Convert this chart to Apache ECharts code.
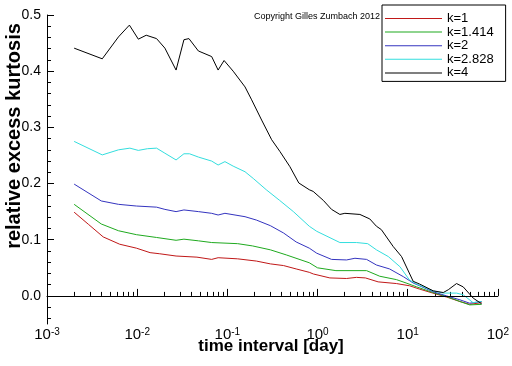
<!DOCTYPE html>
<html>
<head>
<meta charset="utf-8">
<script src="https://cdn.jsdelivr.net/npm/echarts@6/dist/echarts.min.js"></script>
<style>html,body{margin:0;padding:0;background:#fff}#c{width:512px;height:366px}</style>
</head>
<body>
<div id="c"></div>
<script>
// ---- data (x = time interval in days, y = relative excess kurtosis) ----
const seriesNames = ['k=1', 'k=1.414', 'k=2', 'k=2.828', 'k=4'];
const k1 = [[0.002,0.149],[0.0029,0.127],[0.0042,0.105],[0.0064,0.092],[0.0098,0.085],[0.0139,0.077],[0.0178,0.075],[0.027,0.071],[0.046,0.069],[0.067,0.065],[0.079,0.068],[0.13,0.066],[0.21,0.062],[0.3,0.057],[0.42,0.054],[0.58,0.048],[0.81,0.042],[0.9,0.039],[1.37,0.032],[2.1,0.031],[2.7,0.033],[3.4,0.032],[4.7,0.025],[7.5,0.022],[10.5,0.018],[13.6,0.012],[19,0.005],[27,-0.002],[38,-0.010],[48.7,-0.015],[66,-0.012]];
const k1414 = [[0.002,0.163],[0.004,0.128],[0.0062,0.116],[0.0098,0.109],[0.0164,0.104],[0.027,0.099],[0.033,0.101],[0.048,0.098],[0.067,0.095],[0.13,0.093],[0.19,0.089],[0.3,0.082],[0.45,0.073],[0.81,0.059],[1.0,0.050],[1.6,0.045],[3.5,0.045],[4.9,0.035],[7.5,0.029],[9.6,0.023],[12.6,0.016],[19,0.006],[27,-0.001],[38,-0.010],[48.7,-0.016],[66,-0.015]];
const k2 = [[0.002,0.199],[0.004,0.169],[0.0062,0.163],[0.0098,0.160],[0.0164,0.158],[0.0203,0.154],[0.027,0.150],[0.033,0.153],[0.048,0.150],[0.067,0.147],[0.079,0.144],[0.094,0.147],[0.157,0.141],[0.21,0.135],[0.3,0.125],[0.42,0.112],[0.58,0.096],[0.81,0.085],[0.98,0.076],[1.43,0.065],[2.1,0.064],[2.6,0.067],[3.5,0.065],[4.5,0.055],[6.3,0.048],[9.0,0.034],[11.5,0.023],[19,0.0076],[27,0.0],[38,-0.007],[48.7,-0.013],[66,-0.010]];
const k2828 = [[0.002,0.275],[0.0041,0.251],[0.0062,0.260],[0.0083,0.263],[0.0103,0.259],[0.013,0.262],[0.0164,0.263],[0.0203,0.254],[0.027,0.242],[0.033,0.253],[0.038,0.253],[0.048,0.247],[0.067,0.240],[0.079,0.233],[0.094,0.239],[0.116,0.231],[0.157,0.221],[0.194,0.209],[0.27,0.189],[0.38,0.170],[0.54,0.150],[0.81,0.124],[0.98,0.115],[1.77,0.095],[2.71,0.095],[3.6,0.093],[4.5,0.082],[6.1,0.070],[8.2,0.052],[10.5,0.028],[12.6,0.021],[19,0.009],[24.8,0.005],[34.8,0.005],[41.3,0.002],[53,-0.012],[66,-0.010]];
const k4 = [[0.002,0.441],[0.0041,0.422],[0.0062,0.461],[0.0082,0.482],[0.0103,0.457],[0.0126,0.464],[0.0164,0.458],[0.0203,0.441],[0.027,0.402],[0.033,0.456],[0.0375,0.458],[0.0477,0.436],[0.067,0.426],[0.079,0.402],[0.092,0.419],[0.116,0.400],[0.157,0.372],[0.186,0.349],[0.24,0.313],[0.31,0.278],[0.383,0.257],[0.494,0.230],[0.62,0.201],[0.81,0.189],[0.895,0.186],[1.16,0.170],[1.43,0.154],[1.77,0.145],[2.01,0.147],[2.95,0.145],[3.8,0.137],[4.5,0.124],[5.1,0.118],[6.9,0.088],[8.55,0.070],[11.5,0.026],[13.6,0.021],[19.2,0.009],[24.8,0.006],[28.2,0.011],[34.8,0.022],[41.3,0.016],[53.3,-0.004],[66,-0.014]];
const seriesData = [k1, k1414, k2, k2828, k4];
const yMajorTicks = [0, 0.1, 0.2, 0.3, 0.4, 0.5];
const yMinorTicks = [-0.04,-0.02,0.02,0.04,0.06,0.08,0.12,0.14,0.16,0.18,0.22,0.24,0.26,0.28,0.32,0.34,0.36,0.38,0.42,0.44,0.46,0.48];
const xMinorTicks = [];
[0.001,0.01,0.1,1,10].forEach(d => { for (let m = 2; m <= 9; m++) xMinorTicks.push(+(d*m).toPrecision(3)); });
const copyrightText = 'Copyright Gilles Zumbach 2012';
const xTitle = 'time interval [day]';
const yTitle = 'relative excess kurtosis';

// ---- styles ----
const colors = ['#c01818', '#1faa1f', '#3434bf', '#33dede', '#000000'];
const FONT = 'Liberation Sans';

const chart = echarts.init(document.getElementById('c'), null, {renderer: 'canvas'});
const series = seriesData.map((d, i) => ({
  name: seriesNames[i], type: 'line', data: d, symbol: 'none', showSymbol: false,
  lineStyle: {width: 1, color: colors[i]}, itemStyle: {color: colors[i]},
  xAxisIndex: 0, yAxisIndex: 0, silent: true, z: 3
}));
series[0].markLine = {
  silent: true, symbol: 'none', label: {show: false},
  lineStyle: {color: '#000', width: 1, type: 'solid'},
  data: [{yAxis: 0}]
};

chart.setOption({
  animation: false,
  backgroundColor: '#fff',
  grid: {left: 47, right: 14, top: 15, bottom: 42},
  xAxis: [{
    type: 'log', logBase: 10, min: 0.001, max: 100, splitNumber: 5,
    axisLine: {show: true, lineStyle: {color: '#000', width: 1}},
    axisTick: {show: true, inside: true, length: 7, lineStyle: {color: '#000'}},
    splitLine: {show: false},
    axisLabel: {
      margin: 3, color: '#000', fontFamily: FONT,
      formatter: v => '{b|10}{s|' + Math.round(Math.log10(v)) + '}',
      rich: {b: {fontSize: 15, fontFamily: FONT, color: '#000'},
             s: {fontSize: 10, fontFamily: FONT, color: '#000', verticalAlign: 'top'}}
    }
  }, {
    type: 'log', logBase: 10, min: 0.001, max: 100, position: 'bottom',
    axisLine: {show: false}, axisLabel: {show: false}, splitLine: {show: false},
    axisTick: {show: true, inside: true, length: 4, customValues: xMinorTicks, lineStyle: {color: '#000'}}
  }],
  yAxis: [{
    type: 'value', min: -0.05, max: 0.5,
    axisLine: {show: true, lineStyle: {color: '#000', width: 1}},
    axisTick: {show: true, inside: true, length: 7, customValues: yMajorTicks, lineStyle: {color: '#000'}},
    splitLine: {show: false},
    axisLabel: {customValues: yMajorTicks, margin: 6, fontSize: 14, fontFamily: FONT, color: '#000',
      formatter: v => v.toFixed(1)}
  }, {
    type: 'value', min: -0.05, max: 0.5, position: 'left',
    axisLine: {show: false}, axisLabel: {show: false}, splitLine: {show: false},
    axisTick: {show: true, inside: true, length: 4, customValues: yMinorTicks, lineStyle: {color: '#000'}}
  }],
  legend: {
    data: seriesNames.map(n => ({name: n, icon: 'path://M0,0L57,0L57,1L0,1Z'})),
    orient: 'vertical', left: 382, top: 5,
    padding: [7, 12, 2, 3], itemWidth: 57, itemHeight: 12, itemGap: 0.6,
    symbolKeepAspect: true,
    borderColor: '#000', borderWidth: 1, backgroundColor: '#fff',
    selectedMode: false,
    textStyle: {fontSize: 13, fontFamily: FONT, color: '#000', lineHeight: 12}
  },
  graphic: [
    {type: 'text', left: 254, top: 12, style: {text: copyrightText, font: '9px ' + FONT, fill: '#000'}},
    {type: 'text', x: 271, y: 346, style: {text: xTitle, font: 'bold 17px ' + FONT, fill: '#000', align: 'center', verticalAlign: 'middle'}},
    {type: 'text', x: 14, y: 136, rotation: Math.PI / 2, style: {text: yTitle, font: 'bold 20px ' + FONT, fill: '#000', align: 'center', verticalAlign: 'middle'}}
  ],
  series: series
});
</script>
</body>
</html>
